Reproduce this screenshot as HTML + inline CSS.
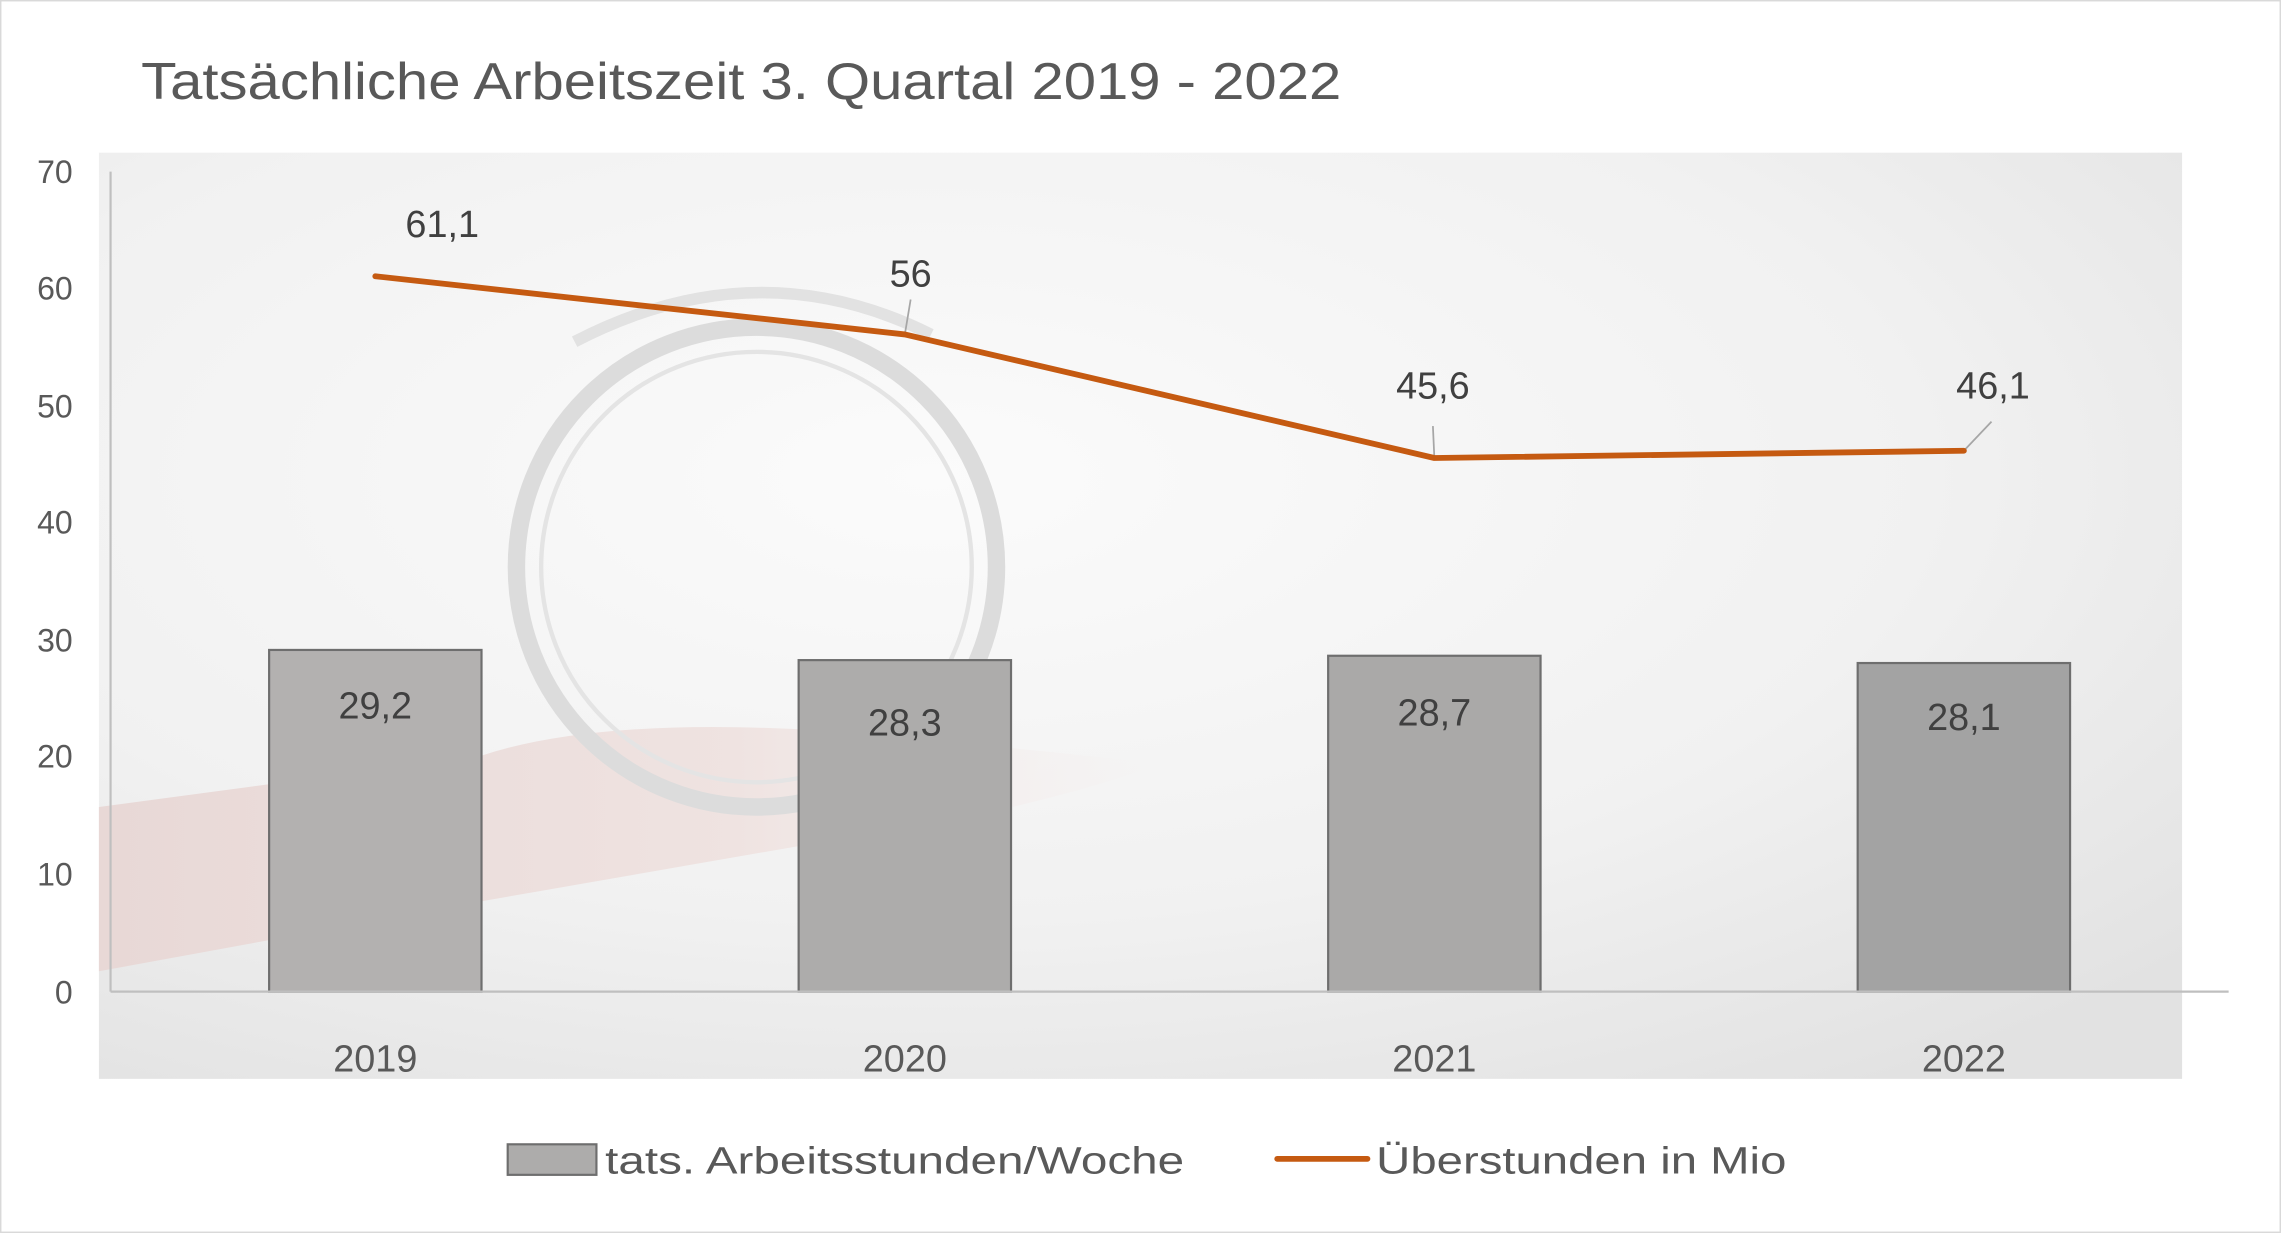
<!DOCTYPE html>
<html><head><meta charset="utf-8">
<style>html,body{margin:0;padding:0;background:#fff}svg{display:block}</style></head>
<body>
<svg width="2281" height="1233" viewBox="0 0 1568 848" preserveAspectRatio="none" xmlns="http://www.w3.org/2000/svg" font-family="'Liberation Sans', sans-serif">
<defs>
<radialGradient id="bg" cx="0.4" cy="0.35" r="0.8">
<stop offset="0" stop-color="#fbfbfb"/><stop offset="0.6" stop-color="#f1f1f1"/><stop offset="1" stop-color="#e2e2e2"/>
</radialGradient>
<linearGradient id="hand" x1="0" y1="0" x2="1" y2="0">
<stop offset="0" stop-color="#e8d8d6"/><stop offset="0.6" stop-color="#efe3e1"/><stop offset="1" stop-color="#f5eceb" stop-opacity="0"/>
</linearGradient>
</defs>
<rect x="0.5" y="0.5" width="1567" height="847" fill="#fff" stroke="#d9d9d9"/>
<rect x="68" y="105" width="1432" height="637" fill="url(#bg)"/>
<path d="M68,555 L330,520 Q420,490 600,505 L800,525 Q700,560 560,580 L330,620 L68,668 Z" fill="url(#hand)"/>
<circle cx="520" cy="390" r="165" fill="none" stroke="#dcdcdc" stroke-width="12"/>
<circle cx="520" cy="390" r="148" fill="none" stroke="#e4e4e4" stroke-width="3"/>
<path d="M395,235 Q520,170 640,230" fill="none" stroke="#e2e2e2" stroke-width="8"/>
<text x="0" y="0" font-size="36" fill="#595959" textLength="825" lengthAdjust="spacingAndGlyphs" transform="translate(97,68)">Tatsächliche Arbeitszeit 3. Quartal 2019 - 2022</text>
<g font-size="22" fill="#595959" text-anchor="end">
<text x="50" y="126">70</text><text x="50" y="206">60</text><text x="50" y="287">50</text><text x="50" y="367">40</text><text x="50" y="448">30</text><text x="50" y="528">20</text><text x="50" y="609">10</text><text x="50" y="690">0</text>
</g>
<line x1="76" y1="118" x2="76" y2="682" stroke="#bfbfbf" stroke-width="1.5"/>
<g stroke="#6e6e6e" stroke-width="1.5">
<rect x="185" y="447" width="146" height="235" fill="#b3b1b0"/>
<rect x="549" y="454" width="146" height="228" fill="#adacab"/>
<rect x="913" y="451" width="146" height="231" fill="#aaa9a8"/>
<rect x="1277" y="456" width="146" height="226" fill="#a3a3a3"/>
</g>
<line x1="76" y1="682" x2="1532" y2="682" stroke="#bfbfbf" stroke-width="1.5"/>
<g font-size="26" fill="#404040" text-anchor="middle">
<text x="258" y="494">29,2</text><text x="622" y="506">28,3</text><text x="986" y="499">28,7</text><text x="1350" y="502">28,1</text>
</g>
<g stroke="#a6a6a6" stroke-width="1.2">
<line x1="622" y1="230" x2="626" y2="206"/><line x1="986" y1="315" x2="985" y2="293"/><line x1="1350" y1="310" x2="1369" y2="290"/>
</g>
<polyline points="258,190 622,230 986,315 1350,310" fill="none" stroke="#c55a11" stroke-width="4" stroke-linejoin="round" stroke-linecap="round"/>
<g font-size="26" fill="#404040" text-anchor="middle">
<text x="304" y="163">61,1</text><text x="626" y="197">56</text><text x="985" y="274">45,6</text><text x="1370" y="274">46,1</text>
</g>
<g font-size="26" fill="#595959" text-anchor="middle">
<text x="258" y="737">2019</text><text x="622" y="737">2020</text><text x="986" y="737">2021</text><text x="1350" y="737">2022</text>
</g>
<rect x="349" y="787" width="61" height="21" fill="#adacab" stroke="#6e6e6e" stroke-width="1.5"/>
<text x="416" y="807" font-size="26" fill="#595959" textLength="398" lengthAdjust="spacingAndGlyphs">tats. Arbeitsstunden/Woche</text>
<line x1="878" y1="797" x2="940" y2="797" stroke="#c55a11" stroke-width="4" stroke-linecap="round"/>
<text x="946" y="807" font-size="26" fill="#595959" textLength="282" lengthAdjust="spacingAndGlyphs">Überstunden in Mio</text>
</svg>
</body></html>
